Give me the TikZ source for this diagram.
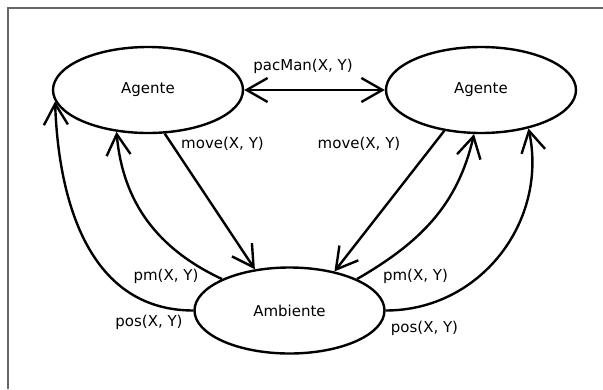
\documentclass[tikz,border=0pt]{standalone}
\usepackage{fontspec}
\setmainfont{DejaVu Sans}
\usetikzlibrary{shapes.geometric,arrows.meta}
\begin{document}
\begin{tikzpicture}[x=1pt,y=-1pt,
  state/.style={ellipse,draw,line width=2.4pt,minimum width=190pt,minimum height=86pt,inner sep=0pt,font=\fontsize{15pt}{16pt}\selectfont},
  lbl/.style={inner sep=0pt,font=\fontsize{15pt}{16pt}\selectfont},
  conn/.style={line width=2.4pt,-{Straight Barb[length=21pt,width=24pt]}},
  conn2/.style={line width=2.4pt,{Straight Barb[length=21pt,width=24pt]}-{Straight Barb[length=21pt,width=24pt]}}]
\useasboundingbox (0,0) rectangle (603,389);
\draw[line width=1.5pt,color=black!60] (8,389) -- (8,8) -- (603,8);
\node[state] (L) at (148,90) {Agente};
\node[state] (R) at (481,90) {Agente};
\node[state] (A) at (289.5,310.5) {Ambiente};
\draw[conn2] (L.0) -- (R.180);
\draw[conn] (L.-69) -- (A.130);
\draw[conn] (R.-132) -- (A.41);
\draw[conn] (A.155) to[out=155,in=-85,looseness=1.0] (L.-127);
\draw[conn] (A.180) to[out=180,in=-88,looseness=1.05] (L.-173);
\draw[conn] (A.25) to[out=30,in=-103,looseness=1.0] (R.-99);
\draw[conn] (A.0) to[out=0,in=-78,looseness=1.05] (R.-39);
\node[lbl] (t1) at (303,66) {pacMan(X, Y)};
\node[lbl] (t2) at (222.5,144) {move(X, Y)};
\node[lbl] (t3) at (359,144) {move(X, Y)};
\node[lbl] (t4) at (166,276) {pm(X, Y)};
\node[lbl] (t5) at (415.5,276) {pm(X, Y)};
\node[lbl] (t6) at (149,322) {pos(X, Y)};
\node[lbl] (t7) at (424.5,328) {pos(X, Y)};
\end{tikzpicture}
\end{document}
